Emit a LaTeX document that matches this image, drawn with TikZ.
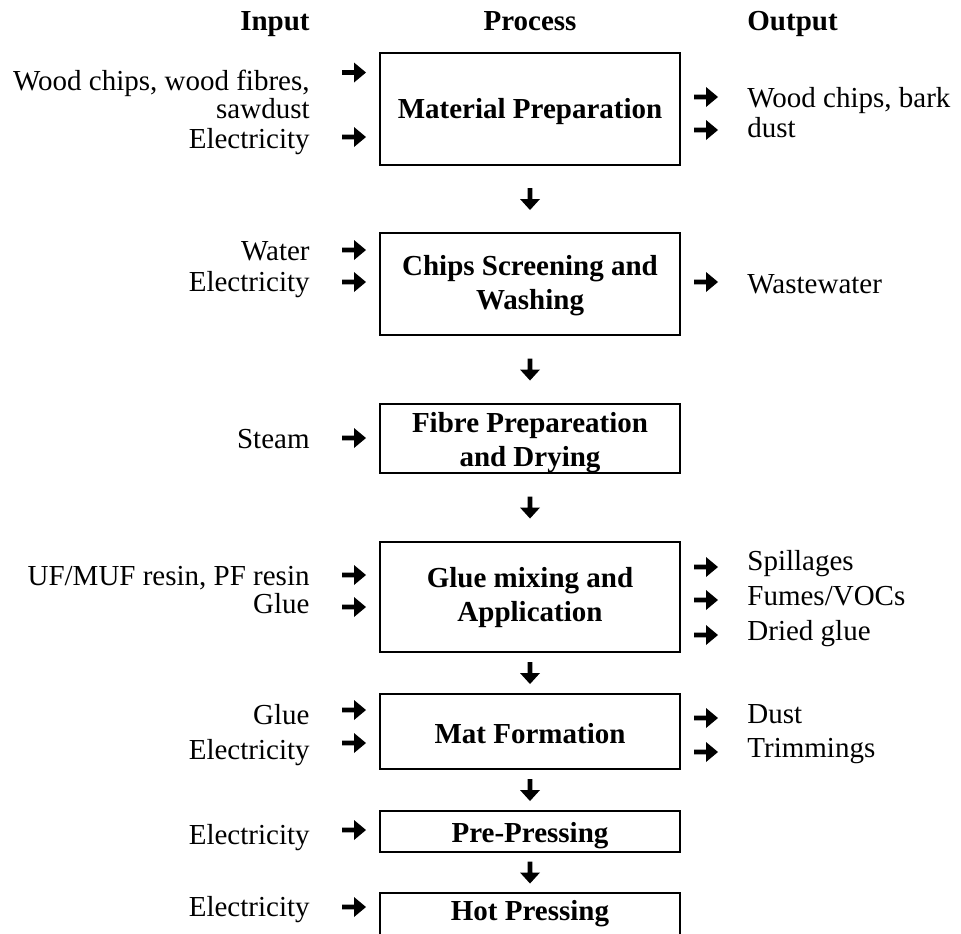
\documentclass[tikz,border=0pt]{standalone}
\usepackage{fontspec}
\setmainfont{Liberation Serif}
\usetikzlibrary{calc}
\begin{document}
\begin{tikzpicture}[x=0.5pt,y=-0.5pt,
  every node/.style={inner sep=0pt, font=\fontsize{14.5pt}{17pt}\selectfont},
  stage/.style={draw, line width=1pt, minimum width=150pt},
  stagetext/.style={align=center, font=\fontsize{14.5pt}{17pt}\selectfont\bfseries},
  colhead/.style={font=\fontsize{14.5pt}{17pt}\selectfont\bfseries},
  inlabel/.style={anchor=base east},
  outlabel/.style={anchor=base west},
  rarr/.pic={\fill (-12,-2.3) -- (0,-2.3) -- (0,-10) -- (12,0) -- (0,10) -- (0,2.3) -- (-12,2.3) -- cycle;},
  darr/.pic={\fill (-2.3,-11) -- (2.3,-11) -- (2.3,0) -- (10,0) -- (0,11) -- (-10,0) -- (-2.3,0) -- cycle;}
]
\useasboundingbox (0,0) rectangle (961,933);

% column headings
\node[colhead, anchor=base east] (hin) at (310,30) {Input};
\node[colhead, anchor=base] (hproc) at (530,30) {Process};
\node[colhead, anchor=base west] (hout) at (747,30) {Output};

% process stages: frames
\node[stage, minimum height=56pt] (b1) at (530,109) {};
\node[stage, minimum height=51pt] (b2) at (530,284) {};
\node[stage, minimum height=34.5pt] (b3) at (530,438.5) {};
\node[stage, minimum height=55pt] (b4) at (530,597) {};
\node[stage, minimum height=37.5pt] (b5) at (530,731.5) {};
\node[stage, minimum height=20.5pt] (b6) at (530,831.5) {};
\node[stage, minimum height=21pt] (b7) at (530,914) {};

% process stages: titles
\node[stagetext] (t1) at ($(b1.center)+(0,3)$) {Material Preparation};
\node[stagetext] (t2) at ($(b2.center)+(0,2)$) {Chips Screening and\\Washing};
\node[stagetext] (t3) at ($(b3.center)+(0,4.5)$) {Fibre Prepareation\\and Drying};
\node[stagetext] (t4) at ($(b4.center)+(0,1)$) {Glue mixing and\\Application};
\node[stagetext] (t5) at ($(b5.center)+(0,2)$) {Mat Formation};
\node[stagetext] (t6) at ($(b6.center)+(0,4)$) {Pre-Pressing};
\node[stagetext] (t7) at ($(b7.center)+(0,0)$) {Hot Pressing};

% flow between stages
\pic at ($(b1.south)!0.5!(b2.north)$) {darr};
\pic at ($(b2.south)!0.5!(b3.north)$) {darr};
\pic at ($(b3.south)!0.5!(b4.north)$) {darr};
\pic at ($(b4.south)!0.5!(b5.north)$) {darr};
\pic at ($(b5.south)!0.5!(b6.north)$) {darr};
\pic at ($(b6.south)!0.5!(b7.north)$) {darr};

% inputs
\node[inlabel] (i1a) at (310,90) {Wood chips, wood fibres,};
\node[inlabel] (i1b) at (310,118) {sawdust};
\node[inlabel] (i1c) at (310,148) {Electricity};
\node[inlabel] (i2a) at (310,260) {Water};
\node[inlabel] (i2b) at (310,291) {Electricity};
\node[inlabel] (i3a) at (310,448) {Steam};
\node[inlabel] (i4a) at (310,585) {UF/MUF resin, PF resin};
\node[inlabel] (i4b) at (310,613) {Glue};
\node[inlabel] (i5a) at (310,724) {Glue};
\node[inlabel] (i5b) at (310,759) {Electricity};
\node[inlabel] (i6a) at (310,844) {Electricity};
\node[inlabel] (i7a) at (310,916) {Electricity};

\foreach \y in {72.5,137,250,282,438,575,607,710,743,830,907}
  \pic at (354,\y) {rarr};

% outputs
\node[outlabel] (o1a) at (747,107) {Wood chips, bark};
\node[outlabel] (o1b) at (747,137) {dust};
\node[outlabel] (o2a) at (747,293) {Wastewater};
\node[outlabel] (o4a) at (747,570) {Spillages};
\node[outlabel] (o4b) at (747,605) {Fumes/VOCs};
\node[outlabel] (o4c) at (747,640) {Dried glue};
\node[outlabel] (o5a) at (747,723) {Dust};
\node[outlabel] (o5b) at (747,757) {Trimmings};

\foreach \y in {97,130,282,567,600,635,718,752}
  \pic at (706,\y) {rarr};
\end{tikzpicture}
\end{document}
